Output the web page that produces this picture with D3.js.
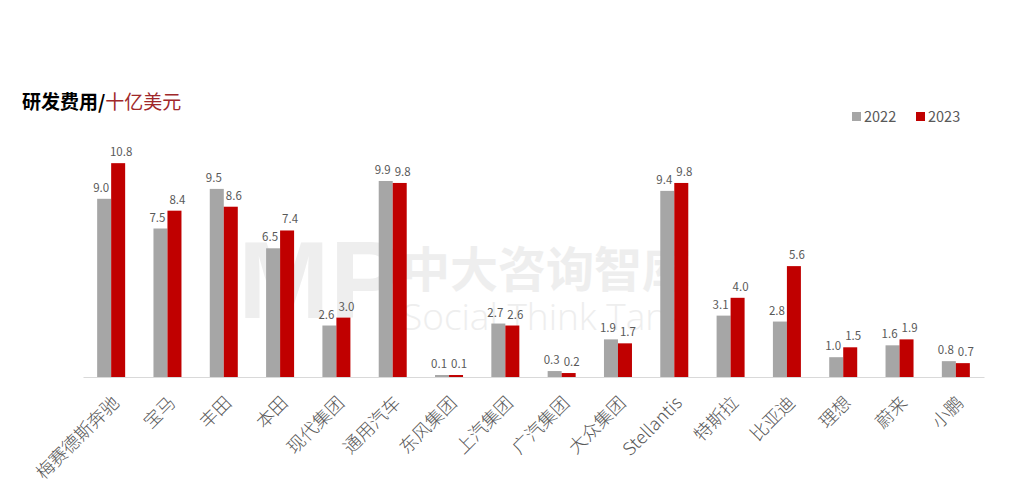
<!DOCTYPE html>
<html><head><meta charset="utf-8">
<script src="https://cdn.jsdelivr.net/npm/d3@7"></script>
<style>
html,body{margin:0;padding:0;background:#fff;}
svg{display:block;font-family:"Noto Sans CJK SC","Noto Sans",sans-serif;}
</style></head>
<body><svg id="c" width="1021" height="483"></svg>
<script>
const categories = ["梅赛德斯奔驰","宝马","丰田","本田","现代集团","通用汽车","东风集团","上汽集团","广汽集团","大众集团","Stellantis","特斯拉","比亚迪","理想","蔚来","小鹏"];
const values2022 = [9.0,7.5,9.5,6.5,2.6,9.9,0.1,2.7,0.3,1.9,9.4,3.1,2.8,1.0,1.6,0.8];
const values2023 = [10.8,8.4,8.6,7.4,3.0,9.8,0.1,2.6,0.2,1.7,9.8,4.0,5.6,1.5,1.9,0.7];
const seriesNames = ["2022","2023"];
const colors = ["#a6a6a6","#c00000"];

const svg = d3.select("#c");
const left = 83, right = 984, baseY = 377, topY = 139.4;

// watermark
const wm = svg.append("g").attr("fill","#eeeeee");
wm.append("text").attr("x",238).attr("y",318).attr("font-size",110).attr("font-weight","bold")
  .attr("font-family","Liberation Sans, sans-serif").text("MP");
wm.append("text").attr("x",402).attr("y",287).attr("font-size",48).attr("font-weight","bold").text("中大咨询智库");
wm.append("text").attr("x",402).attr("y",330).attr("font-size",37).attr("font-weight",300).attr("font-family","Open Sans, sans-serif").text("Social Think Tank");

const x0 = d3.scaleBand().domain(categories).range([left,right]).paddingInner(0).paddingOuter(0);
const x1 = d3.scaleBand().domain(seriesNames).range([x0.bandwidth()/2-14, x0.bandwidth()/2+14]);
const y = d3.scaleLinear().domain([0,12]).range([baseY, topY]);

const rows = categories.map((c,i)=>({cat:c, vals:[values2022[i], values2023[i]]}));

const g = svg.append("g");
const groups = g.selectAll("g.grp").data(rows).enter().append("g")
  .attr("transform", d=>`translate(${x0(d.cat)},0)`);

groups.selectAll("rect").data(d=>d.vals.map((v,k)=>({v,k}))).enter().append("rect")
  .attr("x", d=>x1(seriesNames[d.k]))
  .attr("width", x1.bandwidth())
  .attr("y", d=>y(d.v))
  .attr("height", d=>baseY - y(d.v))
  .attr("fill", d=>colors[d.k]);

groups.selectAll("text.lbl").data(d=>d.vals.map((v,k)=>({v,k}))).enter().append("text")
  .attr("class","lbl")
  .attr("x", d=>x1(seriesNames[d.k]) + x1.bandwidth()/2 + (d.k===0?-3:3))
  .attr("y", d=>y(d.v) - 7)
  .attr("text-anchor","middle")
  .attr("font-size",11.5)
  .attr("fill","#595959")
  .text(d=>d3.format(".1f")(d.v));

// axis
const xAxis = d3.axisBottom(x0).tickSize(0).tickPadding(0);
const ax = svg.append("g").attr("transform",`translate(0,${baseY})`).call(xAxis);
ax.select(".domain").attr("stroke","#d9d9d9").attr("stroke-width",1);
ax.selectAll(".tick text")
  .attr("font-family","Noto Sans CJK SC, sans-serif")
  .attr("font-size",18)
  .attr("font-weight",300)
  .attr("fill","#595959")
  .attr("text-anchor","end")
  .attr("dy",0)
  .attr("y",0)
  .attr("transform","translate(9,27) rotate(-45)");

// title
const t = svg.append("text").attr("x",22).attr("y",109).attr("font-size",19);
t.append("tspan").attr("font-weight","bold").attr("fill","#000").text("研发费用/");
t.append("tspan").attr("fill","#a0282a").text("十亿美元");

// legend
const lg = svg.append("g").attr("transform","translate(852,112)");
seriesNames.forEach((s,i)=>{
  const gg = lg.append("g").attr("transform",`translate(${i*64},0)`);
  gg.append("rect").attr("width",9).attr("height",9).attr("fill",colors[i]);
  gg.append("text").attr("x",12).attr("y",10).attr("font-size",14.5).attr("fill","#595959").text(s);
});
</script></body></html>
